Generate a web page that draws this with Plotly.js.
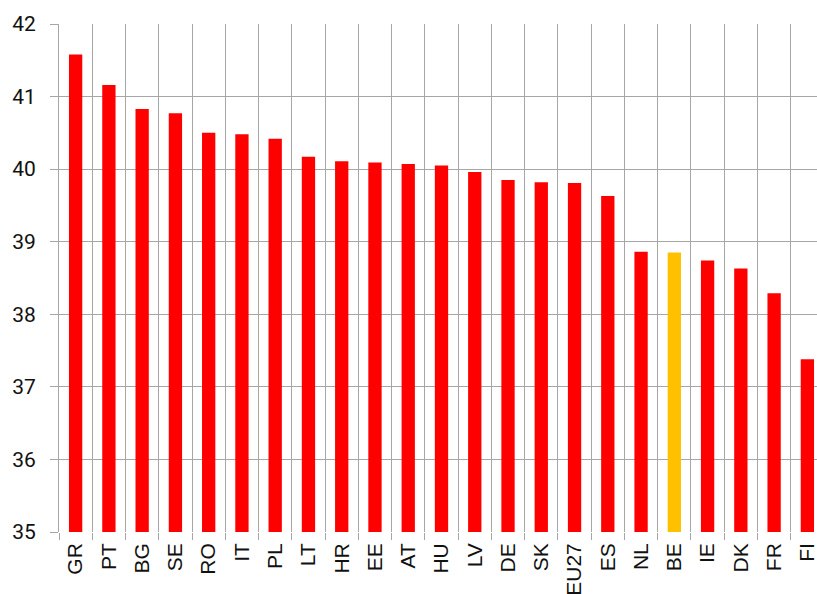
<!DOCTYPE html>
<html>
<head>
<meta charset="utf-8">
<script src="https://cdn.plot.ly/plotly-3.0.1.min.js"></script>
<style>
html,body{margin:0;padding:0;overflow:hidden;background:#fff;}
#chart{width:824px;height:594px;}
</style>
</head>
<body>
<div id="chart"></div>
<script>
const categories = ["GR","PT","BG","SE","RO","IT","PL","LT","HR","EE","AT","HU","LV","DE","SK","EU27","ES","NL","BE","IE","DK","FR","FI"];
const values = [41.58,41.16,40.83,40.77,40.50,40.48,40.42,40.17,40.11,40.09,40.07,40.05,39.96,39.85,39.82,39.81,39.63,38.86,38.85,38.74,38.63,38.29,37.38];
const highlight = "BE";
const yTicks = [35,36,37,38,39,40,41,42];

const barColors = categories.map(c => c === highlight ? "#FFC000" : "#FF0000");

const trace = {
  type: "bar",
  x: categories,
  y: values,
  width: 0.4,
  marker: {color: barColors, line: {width: 0}},
  hoverinfo: "x+y"
};

const layout = {
  width: 824,
  height: 594,
  autosize: false,
  margin: {l: 59, r: 0, t: 24, b: 62, pad: 0},
  paper_bgcolor: "#ffffff",
  plot_bgcolor: "#ffffff",
  showlegend: false,
  bargap: 0.6,
  xaxis: {
    type: "category",
    tickson: "boundaries",
    showgrid: true,
    gridcolor: "#a6a6a6",
    gridwidth: 1,
    ticks: "outside",
    ticklen: 7,
    tickcolor: "#a6a6a6",
    tickwidth: 1,
    tickangle: -90,
    ticklabelstandoff: 6,
    tickfont: {family: "Liberation Sans, Arial, sans-serif", size: 21, color: "#111111"},
    showline: false,
    zeroline: false,
    automargin: false
  },
  yaxis: {
    range: [35, 42],
    tickvals: yTicks,
    ticktext: yTicks.map(String),
    showgrid: true,
    gridcolor: "#a6a6a6",
    gridwidth: 1,
    ticks: "outside",
    ticklen: 8,
    tickcolor: "#a6a6a6",
    tickwidth: 1,
    ticklabelstandoff: 10,
    tickfont: {family: "Roboto, sans-serif", size: 21, color: "#111111"},
    showline: true,
    linecolor: "#a6a6a6",
    linewidth: 1,
    zeroline: false,
    automargin: false,
    fixedrange: true
  }
};

Plotly.newPlot("chart", [trace], layout, {displayModeBar: false, staticPlot: true});
</script>
</body>
</html>
